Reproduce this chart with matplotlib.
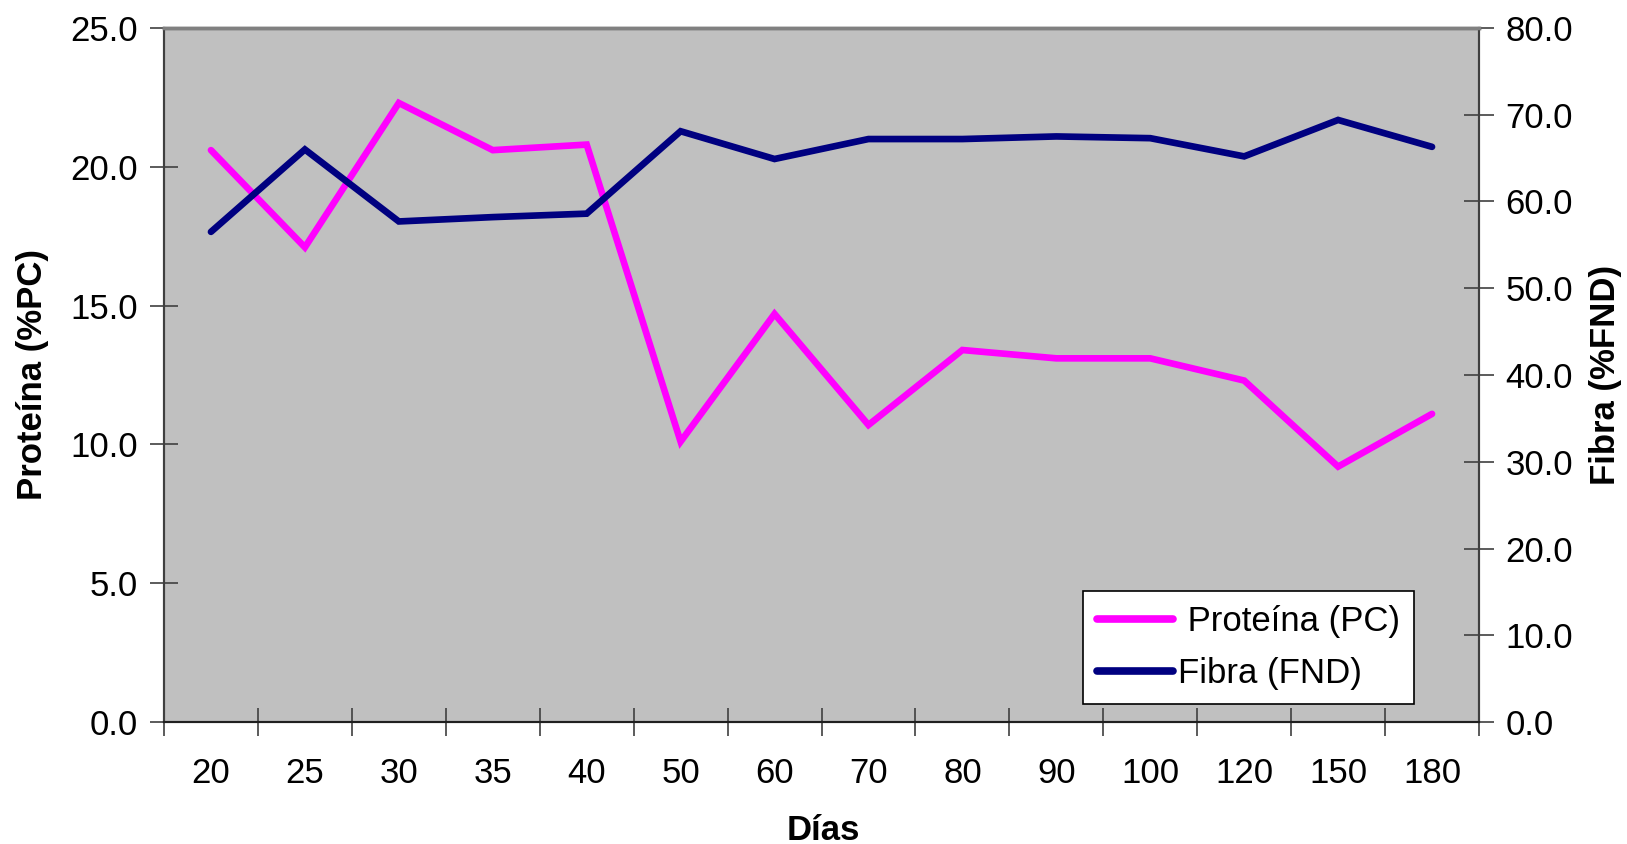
import matplotlib
matplotlib.use("Agg")
import matplotlib.pyplot as plt
import numpy as np

plt.rcParams['font.family'] = ['Liberation Sans', 'DejaVu Sans']

dias = ["20", "25", "30", "35", "40", "50", "60", "70", "80", "90", "100", "120", "150", "180"]
proteina = [20.6, 17.1, 22.3, 20.6, 20.8, 10.1, 14.7, 10.7, 13.4, 13.1, 13.1, 12.3, 9.2, 11.1]
fibra = [56.5, 66.0, 57.7, 58.2, 58.6, 68.1, 64.9, 67.2, 67.2, 67.5, 67.3, 65.2, 69.4, 66.3]

fs = 25

fig = plt.figure(figsize=(16.27, 8.44), dpi=100)
ax = fig.add_axes([164/1627, 1-722/844, (1479-164)/1627, (722-28)/844])
ax2 = ax.twinx()

x = np.arange(len(dias))
l1, = ax.plot(x, proteina, color='#FF00FF', lw=4.8, solid_capstyle='round',
              solid_joinstyle='miter', label=' Proteína (PC)')
l2, = ax2.plot(x, fibra, color='#000080', lw=4.8, solid_capstyle='round',
               solid_joinstyle='miter', label='Fibra (FND)')

ax.set_facecolor('#C0C0C0')
ax2.patch.set_visible(False)

ax.set_xlim(-0.5, len(dias) - 0.5)
ax.set_ylim(0, 25)
ax2.set_ylim(0, 80)

ax.set_xticks(x)
ax.set_xticklabels(dias, fontsize=fs)
ax.set_xticks(np.arange(len(dias) + 1) - 0.5, minor=True)
ax.tick_params(axis='x', which='major', length=0, pad=25)
ax.tick_params(axis='x', which='minor', direction='inout', length=20, width=1.2, color='#404040')

ax.set_yticks(np.arange(0, 26, 5))
ax.set_yticklabels([f"{v:.1f}" for v in np.arange(0, 26, 5)], fontsize=fs)
ax.tick_params(axis='y', direction='inout', length=20, width=1.2, pad=9, color='#404040')

ax2.set_yticks(np.arange(0, 81, 10))
ax2.set_yticklabels([f"{v:.1f}" for v in np.arange(0, 81, 10)], fontsize=fs)
ax2.tick_params(axis='y', direction='inout', length=22, width=1.2, pad=8, color='#404040')

for a in (ax, ax2):
    a.spines['top'].set_color('#808080')
    a.spines['top'].set_linewidth(2.5)
    a.spines['left'].set_color('#404040')
    a.spines['right'].set_color('#404040')
    a.spines['bottom'].set_color('#202020')
    for s in ['left', 'right', 'bottom']:
        a.spines[s].set_linewidth(1.5)

ax.set_xlabel('Días', fontsize=fs, fontweight='bold')
ax.xaxis.set_label_coords((823-164)/1315, (722-830)/694)
ax.xaxis.label.set_va('center')
ax.set_ylabel('Proteína (%PC)', fontsize=fs, fontweight='bold')
ax.yaxis.set_label_coords((33-164)/1315, 0.5)
ax.yaxis.label.set_va('center')
ax2.set_ylabel('Fibra (%FND)', fontsize=fs, fontweight='bold')
ax2.yaxis.set_label_coords((1606-164)/1315, 0.5)
ax2.yaxis.label.set_va('center')

leg = ax2.legend(handles=[l1, l2], loc='upper left',
                 bbox_to_anchor=(1083/1627, 1-591/844), bbox_transform=fig.transFigure,
                 fontsize=fs, frameon=True, fancybox=False, framealpha=1,
                 edgecolor='black', borderpad=0.4, handlelength=2.2,
                 handletextpad=0.15, labelspacing=0.55, borderaxespad=0)
leg.get_frame().set_linewidth(1.2)
for h in leg.get_lines():
    h.set_linewidth(5.5)

fig.savefig('out.png', dpi=100)
